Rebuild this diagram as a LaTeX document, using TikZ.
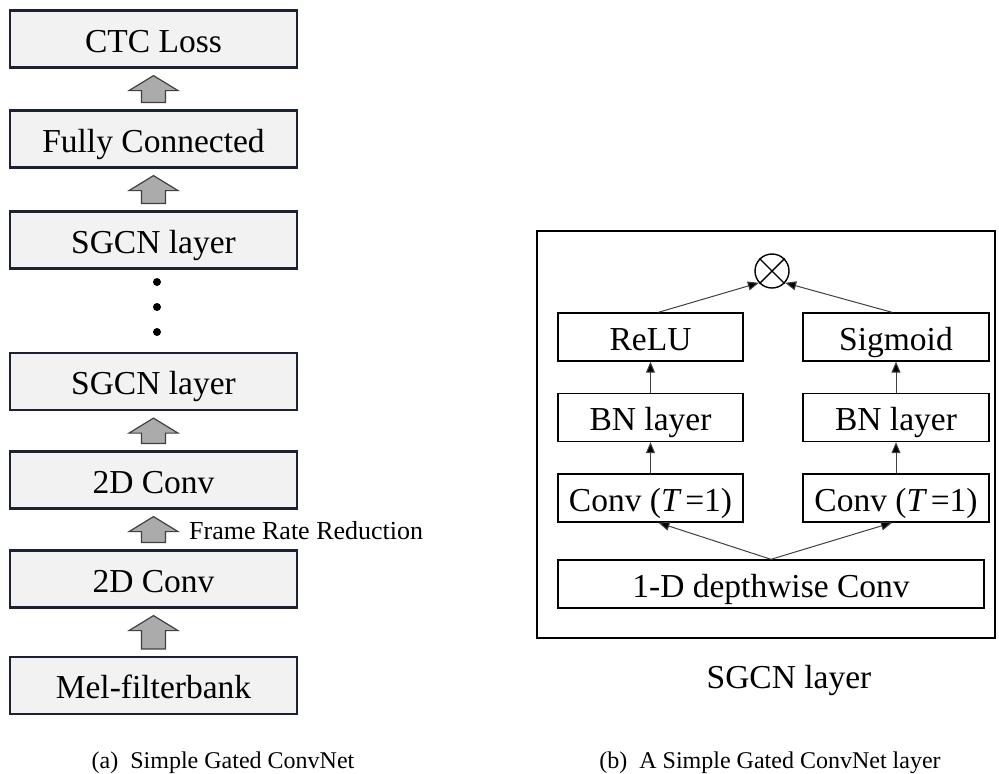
\documentclass[tikz,border=0pt]{standalone}
\usepackage{fontspec}
\setmainfont{Liberation Serif}
\usetikzlibrary{calc,arrows.meta}
\definecolor{boxfill}{HTML}{F2F2F2}
\definecolor{boxline}{HTML}{1C2233}
\definecolor{arrfill}{HTML}{ABABAB}
\definecolor{arrline}{HTML}{404040}
\definecolor{conline}{HTML}{404040}
\newcommand{\blockup}[2]{%
  \draw[garrow] ($(#1.north)+(-12,-7)$) -- ($(#1.north)+(12,-7)$) -- ($(#2.south)+(12,22)$) -- ($(#2.south)+(24.5,22)$) -- ($(#2.south)+(0,7)$) -- ($(#2.south)+(-24.5,22)$) -- ($(#2.south)+(-12,22)$) -- cycle;}
\tikzset{
  bigtext/.style={font=\fontsize{33.5}{40}\selectfont, text height=26pt, text depth=0pt},
  leftbox/.style={bigtext, draw=boxline, line width=2.2pt, fill=boxfill, minimum width=287pt, minimum height=57pt, inner sep=0pt},
  rightbox/.style={bigtext, draw=black, line width=1.4pt, fill=white, minimum height=48pt, inner sep=0pt},
  garrow/.style={draw=arrline, line width=1.2pt, fill=arrfill, line join=miter},
  conn/.style={draw=conline, line width=1pt, -{Triangle[length=11pt,width=9pt,fill=black]}},
  dotnode/.style={circle, fill=black, minimum size=8pt, inner sep=0pt},
  captext/.style={font=\fontsize{24}{28}\selectfont, inner sep=0pt}
}
\begin{document}
\begin{tikzpicture}[x=1pt,y=-1pt]
\useasboundingbox (0,0) rectangle (999,774);
% left column
\node[leftbox] (ctc) at (153.5,39) {CTC Loss};
\node[leftbox] (fc) at (153.5,139) {Fully Connected};
\node[leftbox] (sg1) at (153.5,240) {SGCN layer};
\node[leftbox] (sg2) at (153.5,381.5) {SGCN layer};
\node[leftbox] (cva) at (153.5,480) {2D Conv};
\node[leftbox] (cvb) at (153.5,579) {2D Conv};
\node[leftbox] (mel) at (153.5,685.5) {Mel-filterbank};
\blockup{fc}{ctc}
\blockup{sg1}{fc}
\blockup{cva}{sg2}
\blockup{cvb}{cva}
\blockup{mel}{cvb}
\node[dotnode] (d1) at (157,282) {};
\node[dotnode] (d2) at (157,307) {};
\node[dotnode] (d3) at (157,332) {};
\node[anchor=west, inner sep=0pt, font=\fontsize{26}{30}\selectfont] (frr) at (189,531) {Frame Rate Reduction};
\node[captext] (capa) at (223,763) {(a)\ \ Simple Gated ConvNet};
% right panel
\node[draw=black, line width=1.8pt, minimum width=458pt, minimum height=407pt, inner sep=0pt] (panel) at (766,434.5) {};
\node[rightbox, minimum width=185pt] (relu) at (650.5,337) {ReLU};
\node[rightbox, minimum width=186pt] (sigm) at (896,337) {Sigmoid};
\node[rightbox, minimum width=185pt] (bnl) at (650.5,417.5) {BN layer};
\node[rightbox, minimum width=186pt] (bnr) at (896,417.5) {BN layer};
\node[rightbox, minimum width=185pt] (cvl) at (650.5,498) {Conv ({\itshape T}\,=1)};
\node[rightbox, minimum width=186pt] (cvr) at (896,498) {Conv ({\itshape T}\,=1)};
\node[rightbox, minimum width=426pt] (dw) at (771,584) {1-D depthwise Conv};
\node[circle, draw=black, line width=1.4pt, minimum size=34pt, inner sep=0pt] (mul) at (772,271) {};
\draw[line width=1.4pt] (mul.45) -- (mul.225) (mul.135) -- (mul.315);
\draw[conn] ($(relu.north)+(8,0)$) -- (mul.222);
\draw[conn] ($(sigm.north)+(-4,0)$) -- (mul.318);
\draw[conn] (bnl) -- (relu);
\draw[conn] (bnr) -- (sigm);
\draw[conn] (cvl) -- (bnl);
\draw[conn] (cvr) -- (bnr);
\draw[conn] (dw.north) -- ($(cvl.south)+(8,0)$);
\draw[conn] (dw.north) -- ($(cvr.south)+(-4,0)$);
\node[inner sep=0pt, font=\fontsize{33.5}{40}\selectfont] (lbl) at (789,680) {SGCN layer};
\node[captext] (capb) at (770,763) {(b)\ \ A Simple Gated ConvNet layer};
\end{tikzpicture}
\end{document}
